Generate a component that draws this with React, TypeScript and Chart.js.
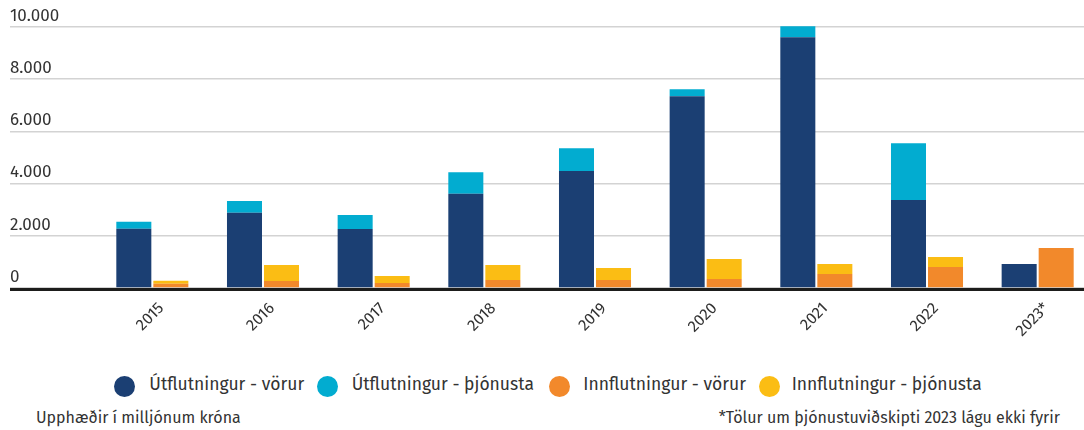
import React, { useEffect, useRef } from "react";
import { Chart, registerables } from "chart.js";

Chart.register(...registerables);

const years = ["2015", "2016", "2017", "2018", "2019", "2020", "2021", "2022", "2023*"];
const exportGoods = [2269, 2882, 2258, 3610, 4478, 7348, 9606, 3368, 918];
const exportServices = [268, 448, 536, 829, 880, 268, 421, 2181, null];
const importGoods = [165, 268, 191, 306, 306, 344, 536, 804, 1531];
const importServices = [115, 612, 268, 574, 459, 766, 382, 382, null];
const seriesNames = [
  "Útflutningur - vörur",
  "Útflutningur - þjónusta",
  "Innflutningur - vörur",
  "Innflutningur - þjónusta",
];
const seriesColors = ["#1b3f73", "#02acd0", "#f2892b", "#fbbd14"];
const yMax = 10000;
const yStep = 2000;
const unitNote = "Upphæðir í milljónum króna";
const footNote = "*Tölur um þjónustuviðskipti 2023 lágu ekki fyrir";

const FONT = "'Fira Sans', 'Open Sans', sans-serif";
const TEXT = "#333333";

const fmt = (v: number) => String(v).replace(/\B(?=(\d{3})+(?!\d))/g, ".");

const baseLine = {
  id: "baseLine",
  afterDatasetsDraw(chart: any) {
    const y = chart.scales.y.getPixelForValue(0);
    const ctx = chart.ctx;
    ctx.save();
    ctx.fillStyle = "#1d1d1b";
    ctx.fillRect(10, Math.round(y), chart.width - 10, 3);
    ctx.restore();
  },
};

const legendPos = [
  { cx: 124.7, tx: 149.3 },
  { cx: 327.5, tx: 351.7 },
  { cx: 559.7, tx: 583.3 },
  { cx: 769.8, tx: 791.7 },
];

export default function App() {
  const ref = useRef<HTMLCanvasElement | null>(null);

  useEffect(() => {
    if (!ref.current) return;
    const chart = new Chart(ref.current, {
      type: "bar",
      data: {
        labels: years,
        datasets: [
          { label: seriesNames[0], data: exportGoods, backgroundColor: seriesColors[0], stack: "out" },
          { label: seriesNames[1], data: exportServices, backgroundColor: seriesColors[1], stack: "out" },
          { label: seriesNames[2], data: importGoods, backgroundColor: seriesColors[2], stack: "in" },
          { label: seriesNames[3], data: importServices, backgroundColor: seriesColors[3], stack: "in" },
        ] as any,
      },
      options: {
        animation: false,
        responsive: true,
        maintainAspectRatio: false,
        layout: { padding: { left: 10, top: 27, right: 0, bottom: 0 } },
        datasets: { bar: { categoryPercentage: 0.669, barPercentage: 0.946, clip: false as any } },
        plugins: { legend: { display: false }, tooltip: { enabled: false } },
        scales: {
          x: {
            stacked: true,
            offset: true,
            grid: { display: false, drawTicks: false },
            border: { display: false },
            ticks: {
              autoSkip: false,
              maxRotation: 45,
              minRotation: 45,
              padding: 11,
              labelOffset: 9,
              color: TEXT,
              font: { family: FONT, size: 16 },
            },
            afterFit: (s: any) => {
              s.height = 62;
            },
          },
          y: {
            stacked: true,
            min: 0,
            max: yMax,
            border: { display: false },
            grid: { color: "#d3d3d3", lineWidth: 1.5, drawTicks: true, tickLength: 87 },
            ticks: {
              stepSize: yStep,
              crossAlign: "far",
              labelOffset: -11,
              padding: 0,
              color: TEXT,
              font: { family: FONT, size: 17 },
              callback: (v: any) => fmt(Number(v)),
            },
            afterFit: (s: any) => {
              s.width = 87;
            },
          },
        },
      },
      plugins: [baseLine],
    });
    return () => chart.destroy();
  }, []);

  return (
    <div style={{ position: "absolute", left: 0, top: 0, width: 1084, height: 430, overflow: "hidden", background: "#fff", fontFamily: FONT, color: TEXT }}>
      <div style={{ position: "absolute", left: 0, top: 0, width: 1093, height: 350 }}>
        <canvas ref={ref} />
      </div>
      {seriesNames.map((name, i) => (
        <React.Fragment key={name}>
          <div
            style={{
              position: "absolute",
              left: legendPos[i].cx - 10.5,
              top: 375.5,
              width: 21,
              height: 21,
              borderRadius: "50%",
              background: seriesColors[i],
            }}
          />
          <div style={{ position: "absolute", left: legendPos[i].tx, top: 374, fontSize: 17.5, lineHeight: "22px", whiteSpace: "nowrap" }}>
            {name}
          </div>
        </React.Fragment>
      ))}
      <div style={{ position: "absolute", left: 36, top: 408, fontSize: 16, lineHeight: "20px", whiteSpace: "nowrap" }}>{unitNote}</div>
      <div style={{ position: "absolute", right: 24, top: 408, fontSize: 16, lineHeight: "20px", whiteSpace: "nowrap" }}>{footNote}</div>
    </div>
  );
}
